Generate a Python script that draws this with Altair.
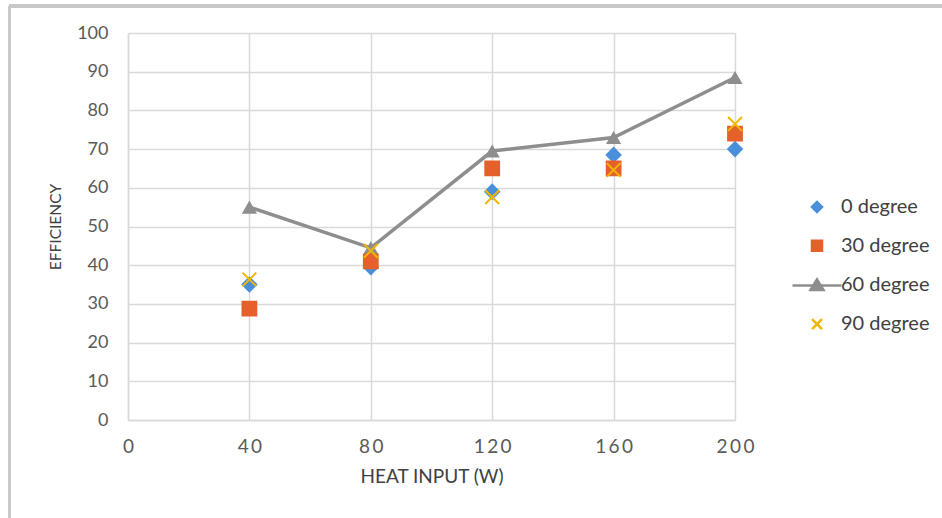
import altair as alt
import pandas as pd

# ---- data ----
heat_input = [40, 80, 120, 160, 200]
series_names = ["0 degree", "30 degree", "60 degree", "90 degree"]
eff_0 = [35.0, 39.5, 59.0, 68.5, 70.0]
eff_30 = [28.8, 41.0, 65.0, 65.0, 74.0]
eff_60 = [55.0, 44.5, 69.5, 73.0, 88.5]
eff_90 = [36.3, 43.7, 57.6, 64.6, 76.5]
x_ticks = [0, 40, 80, 120, 160, 200]
y_ticks = [0, 10, 20, 30, 40, 50, 60, 70, 80, 90, 100]

colors = ["#4A8FDA", "#E5602A", "#8E8E8E", "#F2B700"]
shapes = [
    "diamond",
    "square",
    "M-4.9,0H4.9M-1.3,0.9L0,-1.2L1.3,0.9Z",
    "M-1,-1L1,1M-1,1L1,-1",
]

rows = []
for name, vals in zip(series_names, [eff_0, eff_30, eff_60, eff_90]):
    for h, v in zip(heat_input, vals):
        rows.append({"heat": h, "eff": v, "series": name})
df = pd.DataFrame(rows)

FONT = "Lato"
GRID = "#D9D9D9"
TXT = "#595959"

x_enc = alt.X(
    "heat:Q",
    scale=alt.Scale(domain=[0, 200], nice=False),
    axis=alt.Axis(
        values=x_ticks,
        title="HEAT INPUT (W)",
        labelExpr="join(split(datum.label, ''), '\u2009')",
        labelFontSize=19,
        labelFlush=False,
        labelPadding=17,
        titleFontSize=19,
        titlePadding=11,
        titleFontWeight="normal",
    ),
)
y_enc = alt.Y(
    "eff:Q",
    scale=alt.Scale(domain=[0, 100], nice=False),
    axis=alt.Axis(
        values=y_ticks,
        title="EFFICIENCY",
        labelFontSize=18,
        labelFlush=False,
        labelPadding=20,
        titleFontSize=15.5,
        titlePadding=13,
        titleFontWeight="normal",
    ),
)

legend = alt.Legend(
    title=None,
    orient="none",
    legendX=679,
    legendY=164,
    symbolSize=100,
    symbolStrokeWidth=2.5,
    symbolOpacity=1,
    labelFontSize=20,
    labelFont=FONT,
    labelColor="#404040",
    labelOffset=14,
    rowPadding=18.7,
    padding=0,
)
fill_scale = alt.Scale(domain=series_names, range=colors)
shape_scale = alt.Scale(domain=series_names, range=shapes)

line = (
    alt.Chart(df)
    .transform_filter("datum.series == '60 degree'")
    .mark_line(color="#8E8E8E", strokeWidth=3.5)
    .encode(x=x_enc, y=y_enc)
)
tri = (
    alt.Chart(df)
    .transform_filter("datum.series == '60 degree'")
    .mark_point(shape="triangle-up", filled=True, size=230, opacity=1, color="#8E8E8E")
    .encode(x=x_enc, y=y_enc)
)
pts = (
    alt.Chart(df)
    .transform_filter("datum.series != '60 degree'")
    .mark_point(filled=True, size=190, opacity=1, strokeWidth=2)
    .encode(
        x=x_enc,
        y=y_enc,
        fill=alt.Fill("series:N", scale=fill_scale, legend=legend, sort=series_names),
        stroke=alt.Stroke("series:N", scale=fill_scale, legend=legend, sort=series_names),
        shape=alt.Shape("series:N", scale=shape_scale, legend=legend, sort=series_names),
    )
)

# light frame of the picture (top and left edges only, as in the reference)
frame_left = alt.Chart(df).mark_rule(color="#C8C8C8", strokeWidth=2.5).encode(
    x=alt.value(-118.5), y=alt.value(-27), y2=alt.value(486)
)
frame_top = alt.Chart(df).mark_rule(color="#C8C8C8", strokeWidth=2.5).encode(
    x=alt.value(-118.5), x2=alt.value(815), y=alt.value(-27)
)

chart = (
    alt.layer(frame_left, frame_top, line, tri, pts)
    .properties(
        width=607,
        height=387,
        autosize=alt.AutoSizeParams(type="none"),
        padding={"left": 128, "top": 33, "right": 207, "bottom": 98},
        background="white",
    )
    .configure_view(stroke=None)
    .configure_axis(
        labelFont=FONT,
        titleFont=FONT,
        labelColor=TXT,
        titleColor="#404040",
        gridColor=GRID,
        gridWidth=1.5,
        domainColor=GRID,
        domainWidth=1.5,
        ticks=False,
    )
)

chart.save("out.html", embed_options={"renderer": "svg", "actions": False})
